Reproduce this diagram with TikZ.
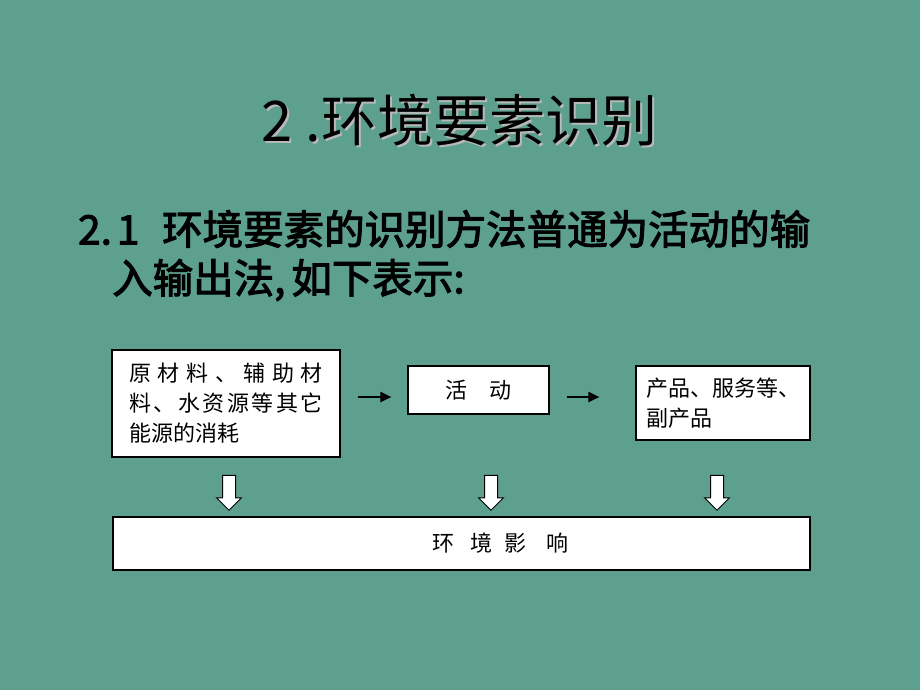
\documentclass[tikz,border=0pt]{standalone}
\usepackage{fontspec}
\setmainfont{Noto Sans CJK SC}[BoldFont=Noto Sans CJK SC, BoldFeatures={FakeBold=2.6}]
\usetikzlibrary{shapes.arrows,arrows.meta}
\definecolor{slidebg}{RGB}{92,160,141}
\tikzset{
  box/.style={rectangle, draw=black, line width=1.2pt, fill=white,
    inner sep=0, align=left, font=\fontsize{22}{30}\selectfont},
  flow/.style={-{Triangle[length=11pt, width=10pt]}, line width=2pt},
  down/.style={single arrow, draw=black, fill=white, line width=1pt,
    shape border rotate=270, inner sep=6pt,
    minimum height=35pt, minimum width=0pt,
    single arrow head extend=6pt},
}
\begin{document}
\begin{tikzpicture}[x=1pt, y=-1pt]
  \fill[slidebg] (0,0) rectangle (920,690);
  \useasboundingbox (0,0) rectangle (920,690);

% TITLE
  \node[inner sep=0, text=gray!55, font=\fontsize{56}{56}\selectfont] (titleshadow) at (461.5,122) {2 .环境要素识别};
  \node[inner sep=0, text=black, font=\fontsize{56}{56}\selectfont] (title) at (459.5,120) {2 .环境要素识别};

  \node[anchor=west, inner sep=0, font=\bfseries\fontsize{40.5}{40.5}\selectfont] (sub1) at (78,229) {\makebox[84pt][l]{2.\hspace{5pt}1}环境要素的识别方法普通为活动的输};
  \node[anchor=west, inner sep=0, font=\bfseries\fontsize{40.5}{40.5}\selectfont] (sub2) at (112,280) {入输出法,\hspace{6pt}如下表示:};

% BOXES
  \node[box, minimum width=228pt, minimum height=107pt] (b1) at (226,403.5)
    {\makebox[194pt][s]{原\hfill 材\hfill 料\hfill 、\hfill 辅\hfill 助\hfill 材}\\
     \makebox[194pt][s]{料\hfill 、\hfill 水\hfill 资\hfill 源\hfill 等\hfill 其\hfill 它}\\
     能源的消耗};
  \node[box, minimum width=141pt, minimum height=48pt] (b2) at (478.5,390) {活\quad 动};
  \node[box, minimum width=174pt, minimum height=74pt] (b3) at (723,403) {产品、服务等、\\副产品};
  \node[box, minimum width=697pt, minimum height=53pt] (impact) at (461.5,543.5)
    {\hspace*{78pt}环\hspace{16pt}境\hspace{12pt}影\hspace{20pt}响};

  \coordinate (lane) at ([yshift=-7pt]b2.west);
  \draw[flow, shorten <=17pt, shorten >=16pt] (b1.east |- lane) -- (lane);
  \draw[flow, shorten <=17pt, shorten >=36pt] (b2.east |- lane) -- (b3.west |- lane);

% DOWN ARROWS
  \node[down] (d1) at (229,489.5) {};
  \node[down] (d2) at (491,489.5) {};
  \node[down] (d3) at (717,489.5) {};
\end{tikzpicture}
\end{document}
